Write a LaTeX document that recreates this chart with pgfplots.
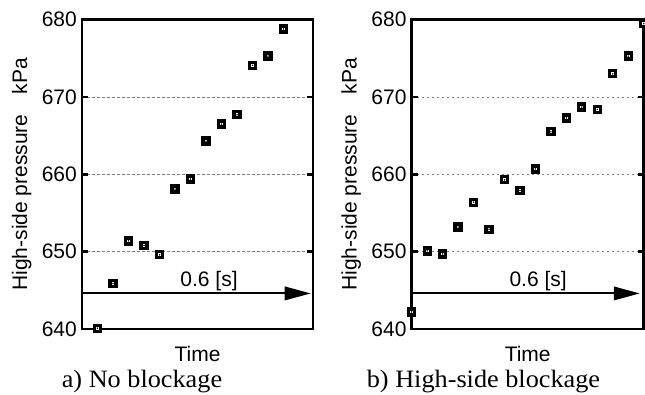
\documentclass[border=0pt]{standalone}
\usepackage{pgfplots}
\pgfplotsset{compat=1.18}
\usepackage{pgfplotstable}
\usepackage{fontspec}
\setmainfont{Liberation Sans}
\newfontfamily\capfont{Liberation Serif}[FakeStretch=1.05]
\usetikzlibrary{arrows.meta}

\pgfplotstableread{
x y
0 640.1
1 645.9
2 651.4
3 650.8
4 649.6
5 658.1
6 659.4
7 664.3
8 666.5
9 667.7
10 674.1
11 675.3
12 678.8
}\dataA

\pgfplotstableread{
x y
0 642.2
1 650.1
2 649.7
3 653.2
4 656.4
5 652.9
6 659.3
7 657.9
8 660.7
9 665.5
10 667.3
11 668.7
12 668.4
13 673.0
14 675.3
15 679.5
}\dataB

\pgfplotsset{
  panel/.style={
    scale only axis, height=309.3pt, anchor=south west,
    ymin=640, ymax=680, ytick={640,650,...,680},
    xtick=\empty,
    axis line style={line width=2.7pt},
    tick style={line width=2.6pt, black},
    major tick length=6pt,
    tick align=inside,
    ymajorgrids,
    grid style={gray, line width=0.6pt, dash pattern=on 2.5pt off 2.5pt},
    yticklabel style={inner sep=0pt, xshift=-5pt, font=\fontsize{21}{25}\selectfont},
    /pgf/number format/assume math mode=true,
    ylabel={High-side pressure\hspace{0.95em}kPa},
    ylabel style={at={(axis description cs:-0.2373,0.5)}, anchor=base, font=\fontsize{21}{25}\selectfont},
    xlabel={Time},
    xlabel style={at={(axis description cs:0.5,0)}, anchor=base, yshift=-32.7pt, font=\fontsize{21}{25}\selectfont},
  },
  sq/.style={only marks, mark=square*, mark size=3pt, mark options={line width=3.3pt, fill=white, draw=black, solid}},
  dt/.style={only marks, mark=*, mark size=0.55pt, mark options={fill=black, draw=black, line width=0.3pt}},
}

\begin{document}
\begin{tikzpicture}[font=\fontsize{21}{25}\selectfont]
\path[use as bounding box] (0,0) rectangle (645pt,394pt);

\begin{axis}[panel, at={(82pt,65pt)}, width=231pt, xmin=-1, xmax=13.9, clip=false]
\draw[line width=2.7pt, black] (rel axis cs:0,0) rectangle (rel axis cs:1,1);
\addplot[sq] table[x=x,y=y] {\dataA};
\addplot[dt] table[x=x,y=y] {\dataA};
\draw[line width=2pt, -{Triangle[length=26pt,width=13.5pt]}] (axis description cs:0,0.115) -- (axis description cs:0.99,0.115);
\node[anchor=base, inner sep=0pt] at (axis description cs:0.55,0.1358) {0.6 [s]};
\end{axis}

\begin{axis}[panel, at={(411.7pt,65pt)}, width=232pt, xmin=0, xmax=15, clip=false]
\draw[line width=2.7pt, black] (rel axis cs:0,0) rectangle (rel axis cs:1,1);
\addplot[sq] table[x=x,y=y] {\dataB};
\addplot[dt] table[x=x,y=y] {\dataB};
\draw[line width=2pt, -{Triangle[length=26pt,width=13.5pt]}] (axis description cs:0,0.115) -- (axis description cs:0.983,0.115);
\node[anchor=base, inner sep=0pt] at (axis description cs:0.545,0.1358) {0.6 [s]};
\end{axis}

\node[anchor=base, inner sep=0pt, font=\capfont\fontsize{25}{29}\selectfont] at (142pt,7pt) {a) No blockage};
\node[anchor=base, inner sep=0pt, font=\capfont\fontsize{25}{29}\selectfont] at (483.5pt,7pt) {b) High-side blockage};
\end{tikzpicture}
\end{document}
